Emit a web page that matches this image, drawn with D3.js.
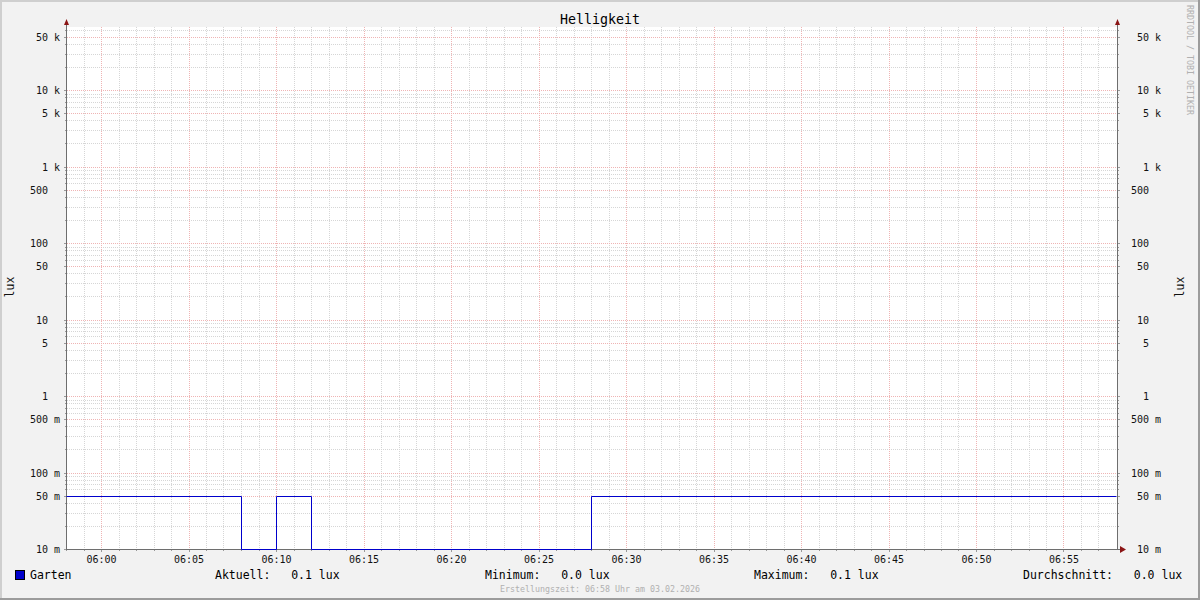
<!DOCTYPE html>
<html>
<head>
<meta charset="utf-8">
<script src="https://cdn.jsdelivr.net/npm/d3@7"></script>
<style>
  html, body { margin: 0; padding: 0; background: #f2f2f2; }
  svg { display: block; font-family: "DejaVu Sans Mono", monospace; }
</style>
</head>
<body>
<script>
// ---- data ----
const title = "Helligkeit";
const unitLabel = "lux";
const seriesName = "Garten";
const timeStart = "05:58";
const timeEnd = "06:58";
// change points of the stepped series (value holds until next time)
const stepTimes = ["05:58", "06:08", "06:10", "06:12", "06:28", "06:58"];
const stepValues = [0.05, 0, 0.05, 0, 0.05, 0.05];
const yTickValues = [50000, 10000, 5000, 1000, 500, 100, 50, 10, 5, 1, 0.5, 0.1, 0.05, 0.01];
const yTickLabels = [["50", "k"], ["10", "k"], ["5", "k"], ["1", "k"], ["500", ""], ["100", ""], ["50", ""], ["10", ""], ["5", ""], ["1", ""], ["500", "m"], ["100", "m"], ["50", "m"], ["10", "m"]];
const xTickLabels = ["06:00", "06:05", "06:10", "06:15", "06:20", "06:25", "06:30", "06:35", "06:40", "06:45", "06:50", "06:55"];
const legendStats = [
  { label: "Aktuell:", value: "0.1 lux" },
  { label: "Minimum:", value: "0.0 lux" },
  { label: "Maximum:", value: "0.1 lux" },
  { label: "Durchschnitt:", value: "0.0 lux" }
];
const footer = "Erstellungszeit: 06:58 Uhr am 03.02.2026";
const watermark = "RRDTOOL / TOBI OETIKER";

// ---- layout ----
const W = 1200, H = 600;
const L = 67, R = 1117, T = 27, B = 549;
const parseT = d3.timeParse("%H:%M");

const svg = d3.select("body").append("svg").attr("width", W).attr("height", H);

// background + shaded frame
svg.append("rect").attr("width", W).attr("height", H).attr("fill", "#f2f2f2");
svg.append("rect").attr("x", 0).attr("y", 0).attr("width", W).attr("height", 2).attr("fill", "#cfcfcf");
svg.append("rect").attr("x", 0).attr("y", 0).attr("width", 2).attr("height", H).attr("fill", "#cfcfcf");
svg.append("rect").attr("x", 0).attr("y", H - 2).attr("width", W).attr("height", 2).attr("fill", "#9c9c9c");
svg.append("rect").attr("x", W - 2).attr("y", 0).attr("width", 2).attr("height", H).attr("fill", "#9c9c9c");

// plot area
svg.append("rect").attr("x", L).attr("y", T).attr("width", R - L).attr("height", B - T).attr("fill", "#ffffff");

// scales
const x = d3.scaleTime().domain([parseT(timeStart), parseT(timeEnd)]).range([L, R]);
const y0 = d3.scaleLog().domain([0.01, 10000]).range([B, 90]);
const y = d3.scaleLog().domain([0.01, y0.invert(T)]).range([B, T]);

const grid = svg.append("g").attr("shape-rendering", "crispEdges");

// minor horizontal grid: 1..9 per decade
const minorY = [];
for (let e = -2; e <= 4; e++) {
  for (let m = 1; m <= 9; m++) {
    const v = m * Math.pow(10, e);
    if (v >= 0.01 && v <= y.domain()[1]) minorY.push(v);
  }
}
const isMajor = v => yTickValues.some(t => Math.abs(t - v) / t < 1e-9);
const minorC = "#d6d6d6", majorC = "#efb4b4";
grid.selectAll(".hminor").data(minorY.filter(v => !isMajor(v))).join("line")
  .attr("x1", L).attr("x2", R)
  .attr("y1", d => Math.round(y(d)) + 0.5).attr("y2", d => Math.round(y(d)) + 0.5)
  .attr("stroke", minorC).attr("stroke-dasharray", "1,1");

// minor vertical grid every minute
const minutes = d3.timeMinute.range(parseT(timeStart), parseT(timeEnd));
const majorTimes = xTickLabels.map(parseT);
const isMajorT = t => t.getMinutes() % 5 === 0;
grid.selectAll(".vminor").data(minutes.filter(t => !isMajorT(t) && x(t) > L + 1)).join("line")
  .attr("y1", T).attr("y2", B)
  .attr("x1", d => Math.round(x(d)) - 0.5).attr("x2", d => Math.round(x(d)) - 0.5)
  .attr("stroke", minorC).attr("stroke-dasharray", "1,1");

// major grids
grid.selectAll(".hmajor").data(yTickValues.filter(v => v > 0.01)).join("line")
  .attr("x1", L).attr("x2", R)
  .attr("y1", d => Math.round(y(d)) + 0.5).attr("y2", d => Math.round(y(d)) + 0.5)
  .attr("stroke", majorC).attr("stroke-dasharray", "1,1");
grid.selectAll(".vmajor").data(majorTimes).join("line")
  .attr("y1", T).attr("y2", B)
  .attr("x1", d => Math.round(x(d)) - 0.5).attr("x2", d => Math.round(x(d)) - 0.5)
  .attr("stroke", majorC).attr("stroke-dasharray", "1,1");

// axis tick marks
const ticks = svg.append("g").attr("shape-rendering", "crispEdges").attr("stroke", "#9a9a9a");
minorY.forEach(v => {
  const yy = Math.round(y(v)) + 0.5;
  const len = isMajor(v) ? 3 : 2;
  ticks.append("line").attr("x1", L - len).attr("x2", L).attr("y1", yy).attr("y2", yy);
  ticks.append("line").attr("x1", R).attr("x2", R + len).attr("y1", yy).attr("y2", yy);
});
minutes.forEach(t => {
  const xx = Math.round(x(t)) - 0.5;
  const len = isMajorT(t) ? 3 : 2;
  ticks.append("line").attr("x1", xx).attr("x2", xx).attr("y1", B).attr("y2", B + len);
});

// axes
const axes = svg.append("g").attr("shape-rendering", "crispEdges").attr("stroke", "#6e6e6e");
axes.append("line").attr("x1", L - 0.5).attr("x2", L - 0.5).attr("y1", 22).attr("y2", B + 0.5);
axes.append("line").attr("x1", R + 0.5).attr("x2", R + 0.5).attr("y1", 22).attr("y2", B + 0.5);

// data line (stepped)
const pts = stepTimes.map((t, i) => ({ t: parseT(t), v: stepValues[i] }));
const yv = v => v <= 0.01 ? B + 0.5 : Math.round(y(v)) + 0.5;
const line = d3.line().x(d => Math.round(x(d.t)) - 0.5).y(d => yv(d.v)).curve(d3.curveStepAfter);

axes.append("line").attr("x1", L - 0.5).attr("x2", R + 5).attr("y1", B + 0.5).attr("y2", B + 0.5);

svg.append("path").datum(pts).attr("d", line)
  .attr("fill", "none").attr("stroke", "#0000cc").attr("stroke-width", 1);

// arrows
const arrowC = "#8b1515";
svg.append("path").attr("d", `M${L - 3},25 L${L + 2},25 L${L - 0.5},19 Z`).attr("fill", arrowC);
svg.append("path").attr("d", `M${R - 2},25 L${R + 3},25 L${R + 0.5},19 Z`).attr("fill", arrowC);
svg.append("path").attr("d", `M${R + 3},${B - 3} L${R + 3},${B + 4} L${R + 9},${B + 0.5} Z`).attr("fill", arrowC);

// y tick labels
const lab = svg.append("g").attr("font-size", 10).attr("fill", "#111");
yTickValues.forEach((v, i) => {
  const yy = y(v) + 4;
  const [num, suf] = yTickLabels[i];
  lab.append("text").attr("x", 48).attr("y", yy).attr("text-anchor", "end").text(num);
  if (suf) lab.append("text").attr("x", 54).attr("y", yy).text(suf);
  lab.append("text").attr("x", 1149).attr("y", yy).attr("text-anchor", "end").text(num);
  if (suf) lab.append("text").attr("x", 1155).attr("y", yy).text(suf);
});

// x tick labels
xTickLabels.forEach(s => {
  lab.append("text").attr("x", x(parseT(s)) - 0.5).attr("y", 563).attr("text-anchor", "middle").text(s);
});

// title
svg.append("text").attr("x", 600).attr("y", 24).attr("text-anchor", "middle")
  .attr("font-size", 13.3).attr("fill", "#000").text(title);

// unit labels
svg.append("text").attr("transform", "translate(14,287) rotate(-90)").attr("text-anchor", "middle")
  .attr("font-size", 11.5).attr("fill", "#111").text(unitLabel);
svg.append("text").attr("transform", "translate(1184,287) rotate(-90)").attr("text-anchor", "middle")
  .attr("font-size", 11.5).attr("fill", "#111").text(unitLabel);

// watermark
svg.append("text").attr("transform", "translate(1187,5) rotate(90)")
  .attr("font-size", 8.3).attr("fill", "#b0b0b0").text(watermark);

// legend
const leg = svg.append("g").attr("font-size", 11.5).attr("fill", "#000");
leg.append("rect").attr("x", 15.5).attr("y", 570.5).attr("width", 9).attr("height", 9)
  .attr("fill", "#0000cc").attr("stroke", "#000").attr("shape-rendering", "crispEdges");
leg.append("text").attr("x", 30).attr("y", 579).text(seriesName);
const statX = [215, 485, 754, 1023];
legendStats.forEach((s, i) => {
  leg.append("text").attr("x", statX[i]).attr("y", 579).style("white-space", "pre")
    .text(s.label + "   " + s.value);
});

// footer
svg.append("text").attr("x", 600).attr("y", 592).attr("text-anchor", "middle")
  .attr("font-size", 8.3).attr("fill", "#b0b0b0").text(footer);
</script>
</body>
</html>
